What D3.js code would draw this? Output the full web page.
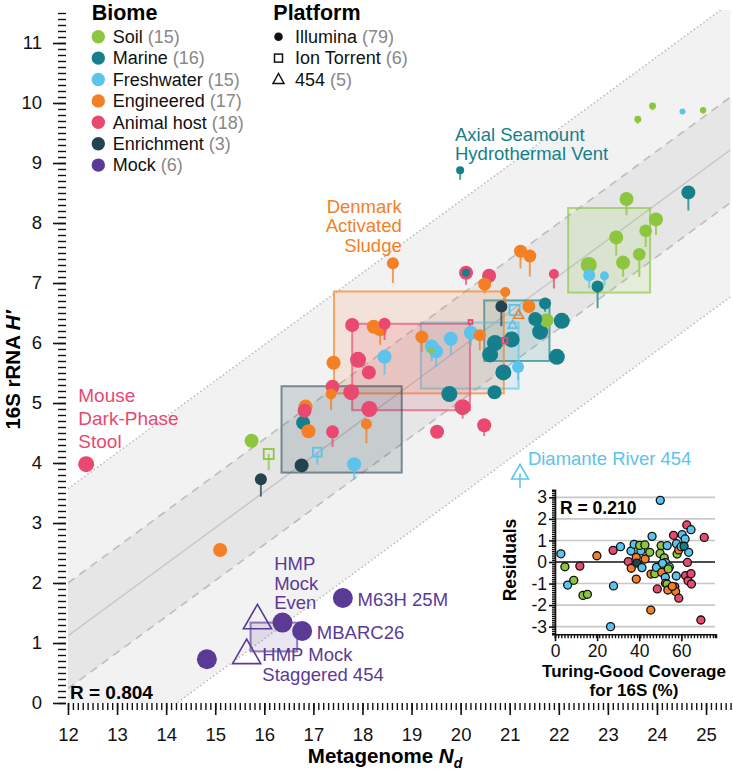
<!doctype html>
<html>
<head>
<style>
    body { margin: 0; background: #fff; }
    svg { font-family: "Liberation Sans", Arial, sans-serif; }
    .tick text { font-size: 18.5px; fill: #111; }
    .tick line { stroke: #111; stroke-width: 1.6; }
    .minor .tick line { stroke-width: 1.4; }
    .inset .tick text { font-size: 17.5px; }
</style>
<script src="https://d3js.org/d3.v7.min.js"></script>
</head>
<body>
<script>
// ---- data ----
const biomes = ['Soil', 'Marine', 'Freshwater', 'Engineered', 'Animal host', 'Enrichment', 'Mock'];
const biomeCounts = [15, 16, 15, 17, 18, 3, 6];
const biomeColors = ['#8cc63f', '#15808b', '#5bc3ec', '#f47f25', '#e9486f', '#23444f', '#5b3a96'];
const platforms = ['Illumina', 'Ion Torrent', '454'];
const platformCounts = [79, 6, 5];

// [Nd, H', H' lower (stem end), depth, platform]
const soil = [
    [15.74, 4.37, null, 49, 'I'], [16.09, 4.15, 3.88, 39, 'T'], [19.40, 5.88, null, 9, 'I'],
    [21.75, 6.38, null, 49, 'I'], [22.61, 7.30, null, 64, 'I'], [23.31, 7.34, 7.10, 49, 'I'],
    [23.17, 7.76, 7.46, 49, 'I'], [23.38, 8.40, 8.13, 49, 'I'], [23.64, 7.48, 7.10, 40, 'I'],
    [23.77, 7.87, 7.60, 40, 'I'], [23.98, 8.06, 7.80, 49, 'I'], [23.61, 9.73, 9.65, 12, 'I'],
    [23.91, 9.95, 9.88, 12, 'I'], [24.94, 9.88, 9.82, 10, 'I']
];
const marine = [
    [19.99, 8.88, 8.72, 16, 'I'], [24.64, 8.51, 8.21, 49, 'I'], [22.79, 6.94, 6.58, 36, 'I'],
    [21.72, 6.66, 6.52, 36, 'I'], [21.52, 6.40, null, 49, 'I'], [22.06, 6.37, null, 64, 'I'],
    [21.62, 6.19, 6.05, 64, 'I'], [21.96, 5.77, null, 64, 'I'], [21.04, 6.06, null, 64, 'I'],
    [20.70, 6.00, null, 64, 'I'], [20.60, 5.81, null, 64, 'I'], [20.87, 5.51, null, 64, 'I'],
    [20.69, 5.18, null, 49, 'I'], [19.77, 5.15, null, 64, 'I'], [20.11, 7.17, null, 16, 'I'],
    [16.79, 4.67, null, 49, 'I']
];
const freshwater = [
    [17.08, 4.18, 3.97, 30, 'T'], [17.83, 3.98, 3.72, 49, 'I'], [18.45, 5.77, 5.47, 49, 'I'],
    [19.41, 5.94, 5.70, 49, 'I'], [19.50, 5.86, 5.60, 49, 'I'], [19.80, 6.07, 5.80, 49, 'I'],
    [20.21, 6.17, 5.95, 49, 'I'], [21.10, 6.55, null, 40, 'T'], [21.06, 6.30, null, 12, '4'],
    [21.17, 5.60, 5.38, 36, 'I'], [22.62, 7.13, 6.91, 36, 'I'], [22.93, 7.12, 6.96, 20, 'I'],
    [24.52, 9.86, null, 9, 'I'], [21.21, 3.83, 3.58, 42, '4']
];
const engineered = [
    [15.10, 2.55, null, 49, 'I'], [18.62, 7.33, 7.00, 36, 'I'], [16.84, 4.94, null, 49, 'I'],
    [16.90, 4.53, null, 49, 'I'], [17.36, 5.15, 4.88, 30, 'I'], [17.41, 5.67, null, 49, 'I'],
    [18.08, 4.65, 4.33, 30, 'I'], [18.23, 6.27, null, 49, 'I'], [18.36, 6.23, 5.97, 49, 'I'],
    [19.21, 6.10, 5.85, 42, 'I'], [20.39, 6.13, 5.88, 36, 'I'], [20.49, 6.98, 6.83, 42, 'I'],
    [20.91, 6.85, 6.67, 25, 'I'], [21.22, 7.53, 7.24, 42, 'I'], [21.41, 7.45, 7.11, 42, 'I'],
    [21.39, 6.61, null, 42, 'I'], [21.18, 6.47, null, 15, '4']
];
const animalHost = [
    [12.37, 3.98, null, 64, 'I'], [16.82, 4.87, null, 49, 'I'], [17.39, 5.27, null, 49, 'I'],
    [17.39, 4.52, 4.27, 42, 'I'], [17.77, 5.18, null, 64, 'I'], [18.14, 4.90, null, 64, 'I'],
    [17.91, 5.72, null, 64, 'I'], [18.13, 5.51, null, 49, 'I'], [17.79, 6.30, null, 49, 'I'],
    [18.45, 6.32, 6.05, 36, 'I'], [20.11, 7.17, 6.97, 49, 'I'], [20.58, 7.12, 6.95, 49, 'I'],
    [21.90, 7.15, 6.91, 25, 'I'], [20.04, 4.93, 4.74, 64, 'I'], [20.48, 4.63, 4.45, 49, 'I'],
    [19.52, 4.52, null, 49, 'I'], [20.20, 6.35, null, 6, 'T'], [20.90, 6.04, null, 12, 'T']
];
const enrichment = [
    [20.83, 6.61, 6.28, 36, 'I'], [16.76, 3.96, null, 49, 'I'], [15.93, 3.73, 3.44, 36, 'I']
];
const mock = [
    [17.60, 1.75, null, 100, 'I'], [16.37, 1.34, null, 100, 'I'], [16.77, 1.20, null, 100, 'I'],
    [14.83, 0.73, null, 100, 'I'], [15.86, 1.40, null, 117, '4'], [15.64, 0.82, null, 117, '4']
];
const biomePoints = [soil, marine, freshwater, engineered, animalHost, enrichment, mock];

// interquartile boxes per biome [Nd lo, Nd hi, H lo, H hi]
const biomeBoxes = [
    [22.19, 23.86, 6.84, 8.25], [20.48, 21.81, 5.70, 6.71], [19.19, 21.18, 5.24, 6.34],
    [17.42, 20.88, 5.16, 6.86], [17.79, 20.19, 4.88, 6.32], [16.35, 18.80, 3.84, 5.28],
    [15.72, 16.67, 0.86, 1.34]
];

// regression fit and bands
const fitSlope = 0.6, fitIntercept = -6.08;
const innerBand = 0.88, outerBand = 2.45;

// inset: [Turing-Good coverage %, residual, biome index]
const residuals = [
    [2.8, 0.38, 2], [4.7, -0.22, 0], [6.0, -1.07, 2], [8.9, -0.85, 0], [11.8, -0.19, 4], [13.3, -1.55, 0],
    [15.4, -1.5, 0], [19.9, 0.29, 3], [27.6, 0.54, 4], [31.1, 0.71, 2], [27.8, -1.11, 2], [26.4, -3.0, 2],
    [34.8, 0.02, 4], [36.2, -0.29, 3], [36.1, 0.51, 2], [37.6, 0.82, 2], [38.6, 0.22, 3], [38.9, -0.05, 5],
    [40.8, 0.52, 2], [40.2, 0.77, 0], [42.7, 0.79, 0], [41.3, -0.26, 2], [38.6, -0.79, 3], [42.8, 0.14, 3],
    [45.0, 0.45, 0], [46.1, 1.19, 2], [45.6, -0.56, 3], [47.4, -0.54, 0], [45.5, -2.23, 3], [48.6, -1.25, 4],
    [48.2, -0.25, 2], [50.0, 2.86, 2], [50.4, 0.76, 0], [49.9, 0.40, 0], [51.9, 0.19, 0], [52.5, -0.03, 2],
    [51.1, -0.06, 2], [53.3, 0.76, 2], [50.7, -0.48, 3], [54.3, -0.23, 2], [53.8, -0.32, 0], [52.4, -0.71, 2],
    [52.5, -0.99, 3], [53.2, -1.02, 0], [53.6, -1.3, 3], [56.3, 1.24, 4], [57.7, 0.85, 2], [58.0, 0.37, 0],
    [58.8, 0.56, 3], [60.4, 1.27, 2], [61.8, 1.07, 2], [59.9, 0.71, 2], [62.6, 1.72, 4], [64.6, 1.5, 2],
    [63.5, 0.45, 2], [61.3, 0.73, 1], [62.9, -0.02, 4], [57.6, -0.65, 2], [56.9, -1.15, 4], [57.3, -1.37, 3],
    [58.8, -1.68, 4], [62.0, -0.63, 4], [63.2, -0.87, 4], [64.6, -0.54, 4], [64.8, -1.02, 4], [70.9, 1.14, 4],
    [69.3, -2.69, 4], [55.7, -1.13, 3]
];

// annotations: lines, Nd, H' of first line, anchor, biome colour index, line gap (px), font px
const notes = [
    [['Axial Seamount', 'Hydrothermal Vent'], 19.885, 9.47, 'start', 1, 19, 18.5],
    [['Denmark', 'Activated', 'Sludge'], 18.80, 8.28, 'end', 3, 19.5, 18.5],
    [['Mouse', 'Dark-Phase', 'Stool'], 12.21, 5.13, 'start', 4, 23.3, 19],
    [['Diamante River 454'], 21.37, 4.08, 'start', 2, 18, 18.5],
    [['HMP', 'Mock', 'Even'], 16.20, 2.32, 'start', 6, 19.5, 18.5],
    [['M63H 25M'], 17.90, 1.73, 'start', 6, 18, 18.5],
    [['MBARC26'], 17.07, 1.17, 'start', 6, 18, 18.5],
    [['HMP Mock', 'Staggered 454'], 15.96, 0.80, 'start', 6, 19.5, 18.5]
];

// ---- layout ----
const W = 733, H = 774;
const svg = d3.select('body').append('svg').attr('width', W).attr('height', H);

const x = d3.scaleLinear().domain([12, 25.5]).range([68, 68 + 13.5 * 49.08]);
const y = d3.scaleLinear().domain([0, 11.55]).range([703, 10]);
const rScale = d3.scaleSqrt().domain([0, 100]).range([0, 10]);
const hyphenInt = d => String(d);

svg.append('clipPath').attr('id', 'plotClip')
    .append('rect').attr('x', x(12)).attr('y', y(11.55))
    .attr('width', x(25.5) - x(12)).attr('height', y(0) - y(11.55));

const plot = svg.append('g').attr('clip-path', 'url(#plotClip)');
const fit = d => fitSlope * d + fitIntercept;
const xs = [12, 25.5];

function band(off) {
    return `M${x(xs[0])},${y(fit(xs[0]) + off)}L${x(xs[1])},${y(fit(xs[1]) + off)}` +
        `L${x(xs[1])},${y(fit(xs[1]) - off)}L${x(xs[0])},${y(fit(xs[0]) - off)}Z`;
}
plot.append('path').attr('d', band(outerBand)).attr('fill', '#f2f2f2');
plot.append('path').attr('d', band(innerBand)).attr('fill', '#e6e6e6');

function fitLine(off, dash) {
    plot.append('line')
        .attr('x1', x(xs[0])).attr('y1', y(fit(xs[0]) + off))
        .attr('x2', x(xs[1])).attr('y2', y(fit(xs[1]) + off))
        .attr('stroke', off === 0 ? '#c4c4c4' : '#bdbdbd')
        .attr('stroke-width', off === 0 ? 1.3 : 1.6)
        .attr('stroke-dasharray', dash);
}
fitLine(0, null);
fitLine(innerBand, '8,6');
fitLine(-innerBand, '8,6');
fitLine(outerBand, '1.5,2.5');
fitLine(-outerBand, '1.5,2.5');

// boxes
biomeBoxes.forEach((b, i) => {
    plot.append('rect')
        .attr('x', x(b[0])).attr('y', y(b[3]))
        .attr('width', x(b[1]) - x(b[0])).attr('height', y(b[2]) - y(b[3]))
        .attr('fill', biomeColors[i]).attr('fill-opacity', i === 5 ? 0.16 : 0.13)
        .attr('stroke', biomeColors[i]).attr('stroke-opacity', i === 5 ? 0.55 : 0.65)
        .attr('stroke-width', 2);
});

// points, biggest first so small ones stay visible
let allPts = [];
biomePoints.forEach((arr, i) => arr.forEach(p => allPts.push({
    nd: p[0], h: p[1], lo: p[2], depth: p[3], plat: p[4], c: biomeColors[i]
})));
allPts.sort((a, b) => b.depth - a.depth);

const ptG = plot.append('g');
allPts.forEach(p => {
    const r = rScale(p.depth);
    if (p.lo !== null) {
        ptG.append('line')
            .attr('x1', x(p.nd)).attr('x2', x(p.nd))
            .attr('y1', y(p.h)).attr('y2', y(p.lo))
            .attr('stroke', p.c).attr('stroke-width', 2).attr('stroke-opacity', 0.75);
    }
    if (p.plat === 'I') {
        ptG.append('circle').attr('cx', x(p.nd)).attr('cy', y(p.h)).attr('r', r).attr('fill', p.c);
    } else if (p.plat === 'T') {
        const s = r * 1.6;
        ptG.append('rect').attr('x', x(p.nd) - s / 2).attr('y', y(p.h) - s / 2)
            .attr('width', s).attr('height', s)
            .attr('fill', 'none').attr('stroke', p.c).attr('stroke-width', 1.8);
    } else {
        const s = r * 2.6, hgt = s * 0.87;
        const cx = x(p.nd), cy = y(p.h);
        ptG.append('path')
            .attr('d', `M${cx},${cy - hgt * 0.6}L${cx + s / 2},${cy + hgt * 0.4}L${cx - s / 2},${cy + hgt * 0.4}Z`)
            .attr('fill', 'none').attr('stroke', p.c).attr('stroke-width', 1.6);
    }
});

// annotations
notes.forEach(n => {
    const t = svg.append('text')
        .attr('x', x(n[1])).attr('y', y(n[2]))
        .attr('text-anchor', n[3])
        .attr('fill', biomeColors[n[4]])
        .style('font-size', n[6] + 'px');
    n[0].forEach((line, k) => t.append('tspan')
        .attr('x', x(n[1])).attr('y', y(n[2]) + k * n[5]).attr('dy', '0.35em').text(line));
});

svg.append('text').attr('x', 70).attr('y', 692.7).attr('dy', '0.35em')
    .style('font-size', '19px').style('font-weight', 'bold').text('R = 0.804');

// axes
svg.append('g').attr('class', 'minor').attr('transform', `translate(0,${y(0)})`)
    .call(d3.axisBottom(x).tickValues(d3.range(120, 256).map(d => d / 10)).tickSize(7).tickFormat(''))
    .call(g => g.select('.domain').remove());
svg.append('g').attr('transform', `translate(0,${y(0)})`)
    .call(d3.axisBottom(x).tickValues(d3.range(12, 26)).tickSize(12).tickPadding(13))
    .call(g => g.select('.domain').remove());

svg.append('g').attr('class', 'minor').attr('transform', `translate(${x(12) - 2},0)`)
    .call(d3.axisLeft(y).tickValues(d3.range(0, 116).map(d => d / 10)).tickSize(8).tickFormat(''))
    .call(g => g.select('.domain').remove());
svg.append('g').attr('transform', `translate(${x(12) - 2},0)`)
    .call(d3.axisLeft(y).tickValues(d3.range(0, 12)).tickSize(13).tickPadding(11))
    .call(g => g.select('.domain').remove());

const xt = svg.append('text').attr('x', 385).attr('y', 763).attr('text-anchor', 'middle')
    .style('font-size', '20.5px').style('font-weight', 'bold');
xt.append('tspan').text('Metagenome ');
xt.append('tspan').style('font-style', 'italic').text('N');
xt.append('tspan').style('font-style', 'italic').style('font-size', '14px').attr('dy', 5).text('d');

const yt = svg.append('text').attr('transform', 'translate(20,370) rotate(-90)')
    .attr('text-anchor', 'middle').style('font-size', '20.5px').style('font-weight', 'bold');
yt.append('tspan').text('16S rRNA ');
yt.append('tspan').style('font-style', 'italic').text('H′');

// legend
const rowY = i => 36.7 + i * 21.4;
svg.append('text').attr('x', 91.7).attr('y', 12).attr('dy', '0.35em')
    .style('font-size', '21.5px').style('font-weight', 'bold').text('Biome');
biomes.forEach((b, i) => {
    svg.append('circle').attr('cx', 98.3).attr('cy', rowY(i)).attr('r', 6.7).attr('fill', biomeColors[i]);
    const t = svg.append('text').attr('x', 112.7).attr('y', rowY(i)).attr('dy', '0.35em').style('font-size', '18px');
    t.append('tspan').attr('fill', '#111').text(b + ' ');
    t.append('tspan').attr('fill', '#888').text(`(${biomeCounts[i]})`);
});
svg.append('text').attr('x', 273.3).attr('y', 12).attr('dy', '0.35em')
    .style('font-size', '21.5px').style('font-weight', 'bold').text('Platform');
platforms.forEach((p, i) => {
    const cx = 278.5, cy = rowY(i);
    if (i === 0) svg.append('circle').attr('cx', cx).attr('cy', cy).attr('r', 4.3).attr('fill', '#111');
    if (i === 1) svg.append('rect').attr('x', cx - 4).attr('y', cy - 4).attr('width', 8).attr('height', 8)
        .attr('fill', 'none').attr('stroke', '#111').attr('stroke-width', 1.5);
    if (i === 2) svg.append('path').attr('d', `M${cx},${cy - 6}L${cx + 5.5},${cy + 4}L${cx - 5.5},${cy + 4}Z`)
        .attr('fill', 'none').attr('stroke', '#111').attr('stroke-width', 1.5);
    const t = svg.append('text').attr('x', 295).attr('y', cy).attr('dy', '0.35em').style('font-size', '18px');
    t.append('tspan').attr('fill', '#111').text(p + ' ');
    t.append('tspan').attr('fill', '#888').text(`(${platformCounts[i]})`);
});

// ---- inset ----
const inset = svg.append('g').attr('class', 'inset');
const xi = d3.scaleLinear().domain([0, 76]).range([555, 715]);
const yi = d3.scaleLinear().domain([-3.35, 3.35]).range([634.2, 489.8]);

d3.range(-3, 4).forEach(v => {
    inset.append('line').attr('x1', xi(0)).attr('x2', xi(76))
        .attr('y1', yi(v)).attr('y2', yi(v))
        .attr('stroke', v === 0 ? '#111' : '#c8c8c8').attr('stroke-width', 1.6);
});

inset.append('g').attr('class', 'minor').attr('transform', `translate(${xi(0)},0)`)
    .call(d3.axisLeft(yi).tickValues(d3.range(-33, 34).map(d => d / 10)).tickSize(3).tickFormat(''))
    .call(g => g.select('.domain').attr('stroke', '#111').attr('stroke-width', 1.6));
inset.append('g').attr('transform', `translate(${xi(0)},0)`)
    .call(d3.axisLeft(yi).tickValues(d3.range(-3, 4)).tickSize(6).tickPadding(2).tickFormat(hyphenInt))
    .call(g => g.select('.domain').remove());
inset.append('g').attr('class', 'minor').attr('transform', `translate(0,${yi(-3.35)})`)
    .call(d3.axisBottom(xi).tickValues(d3.range(0, 77, 1.5)).tickSize(4).tickFormat(''))
    .call(g => g.select('.domain').attr('stroke', '#111').attr('stroke-width', 1.6));
inset.append('g').attr('transform', `translate(0,${yi(-3.35)})`)
    .call(d3.axisBottom(xi).tickValues([0, 20, 40, 60]).tickSize(7).tickPadding(3).tickFormat(hyphenInt))
    .call(g => g.select('.domain').remove());

residuals.forEach(d => {
    inset.append('circle').attr('cx', xi(d[0])).attr('cy', yi(d[1])).attr('r', 4)
        .attr('fill', biomeColors[d[2]]).attr('stroke', '#111').attr('stroke-width', 1.3);
});

inset.append('text').attr('x', 560).attr('y', 508).attr('dy', '0.35em')
    .style('font-size', '17.5px').style('font-weight', 'bold').text('R = 0.210');
inset.append('text').attr('transform', 'translate(516,560) rotate(-90)').attr('text-anchor', 'middle')
    .style('font-size', '17.5px').style('font-weight', 'bold').text('Residuals');
inset.append('text').attr('x', 634).attr('y', 671).attr('dy', '0.35em').attr('text-anchor', 'middle')
    .style('font-size', '17px').style('font-weight', 'bold').text('Turing-Good Coverage');
inset.append('text').attr('x', 634).attr('y', 690).attr('dy', '0.35em').attr('text-anchor', 'middle')
    .style('font-size', '17px').style('font-weight', 'bold').text('for 16S (%)');
</script>
</body>
</html>
